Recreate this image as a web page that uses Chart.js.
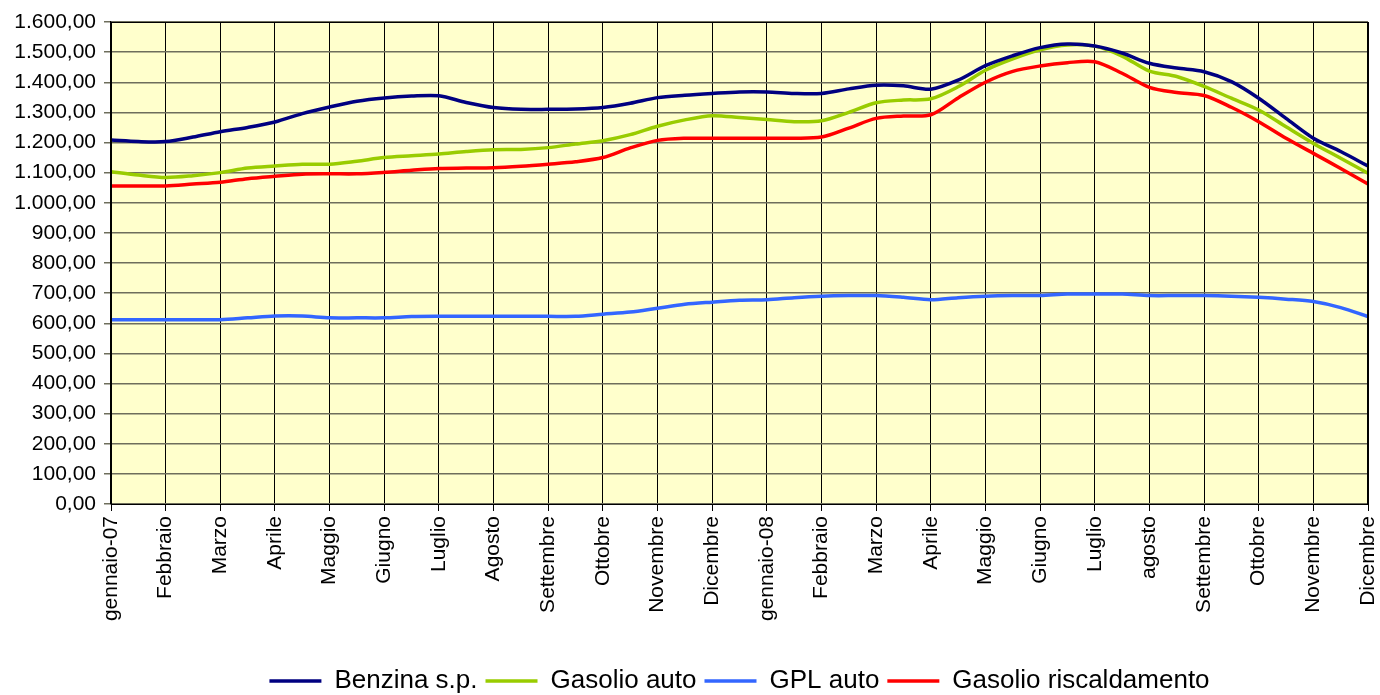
<!DOCTYPE html>
<html>
<head>
<meta charset="utf-8">
<script src="https://cdn.jsdelivr.net/npm/chart.js@4/dist/chart.umd.min.js"></script>
<style>
  html, body { margin: 0; padding: 0; background: #fff; }
  #wrap { width: 1380px; height: 695px; }
</style>
</head>
<body>
<div id="wrap"><canvas id="prezzi"></canvas></div>
<script>
// ── Data (half-month points, gen 2007 – dic 2008) ────────────────
const months = ['gennaio-07', 'Febbraio', 'Marzo', 'Aprile', 'Maggio', 'Giugno', 'Luglio', 'Agosto',
  'Settembre', 'Ottobre', 'Novembre', 'Dicembre', 'gennaio-08', 'Febbraio', 'Marzo', 'Aprile',
  'Maggio', 'Giugno', 'Luglio', 'agosto', 'Settembre', 'Ottobre', 'Novembre', 'Dicembre'];

const benzina = [1208, 1203, 1203, 1218, 1236, 1250, 1268, 1296, 1318, 1337, 1348, 1354, 1355, 1333,
  1316, 1310, 1310, 1311, 1316, 1330, 1349, 1357, 1363, 1368, 1368, 1363, 1363, 1378, 1390, 1388,
  1377, 1407, 1455, 1488, 1515, 1527, 1520, 1497, 1463, 1447, 1435, 1402, 1347, 1280, 1214, 1170, 1122];

const gasolioAuto = [1103, 1092, 1084, 1090, 1100, 1115, 1122, 1128, 1128, 1138, 1150, 1156, 1162, 1170,
  1176, 1177, 1183, 1195, 1206, 1226, 1254, 1275, 1289, 1283, 1276, 1269, 1272, 1300, 1332, 1341,
  1345, 1385, 1440, 1478, 1508, 1524, 1520, 1487, 1437, 1419, 1386, 1347, 1308, 1252, 1197, 1148, 1098];

const gplAuto = [612, 612, 612, 612, 612, 618, 624, 624, 618, 618, 618, 622, 623, 623, 623, 623, 623,
  623, 630, 637, 650, 663, 670, 676, 678, 685, 690, 692, 692, 686, 678, 685, 690, 692, 692, 697, 697,
  697, 692, 692, 692, 690, 686, 680, 672, 652, 622];

const gasolioRisc = [1056, 1056, 1056, 1062, 1068, 1080, 1088, 1095, 1096, 1096, 1101, 1108, 1114, 1115,
  1116, 1121, 1128, 1136, 1150, 1182, 1207, 1214, 1214, 1214, 1214, 1214, 1218, 1248, 1280, 1288,
  1292, 1348, 1400, 1436, 1454, 1465, 1468, 1430, 1383, 1366, 1356, 1317, 1269, 1214, 1164, 1114, 1062];

const positions = benzina.map((_, i) => i);

// ── Helpers ──────────────────────────────────────────────────────
function fmtIt(v) {
  const int = Math.round(v).toString().replace(/\B(?=(\d{3})+(?!\d))/g, '.');
  return int + ',00';
}

function line(label, data, color) {
  return {
    label, data,
    borderColor: color, backgroundColor: color,
    borderWidth: 3.5, pointRadius: 0, tension: 0.3,
    pointStyle: 'line'
  };
}

// plot area fill + frame
const plotBg = {
  id: 'plotBg',
  beforeDraw(chart) {
    const { ctx, chartArea: a } = chart;
    ctx.save();
    ctx.fillStyle = '#FFFFCC';
    ctx.fillRect(a.left, a.top, a.right - a.left, a.bottom - a.top);
    ctx.restore();
  },
  afterDatasetsDraw(chart) {
    const { ctx, chartArea: a } = chart;
    ctx.save();
    ctx.strokeStyle = '#000';
    ctx.lineWidth = 1;
    ctx.strokeRect(Math.round(a.left) + 0.5, Math.round(a.top) + 0.5,
      Math.round(a.right - a.left) - 1, Math.round(a.bottom - a.top));
    ctx.restore();
  }
};

Chart.defaults.font.family = '"Liberation Sans", Arial, sans-serif';
Chart.defaults.color = '#000';

new Chart(document.getElementById('prezzi'), {
  type: 'line',
  data: {
    labels: positions,
    datasets: [
      line('Benzina s.p.', benzina, '#000080'),
      line('Gasolio auto', gasolioAuto, '#99CC00'),
      line('GPL auto', gplAuto, '#3366FF'),
      line('Gasolio riscaldamento', gasolioRisc, '#FF0000')
    ]
  },
  options: {
    responsive: true,
    maintainAspectRatio: false,
    animation: false,
    layout: { padding: { top: 22, right: 12, left: 0, bottom: -9 } },
    plugins: {
      legend: {
        position: 'bottom',
        fullSize: false,   // centre under the plot area, not the canvas
        labels: {
          usePointStyle: true,
          pointStyleWidth: 52,
          padding: 8,
          font: { size: 26 },
          color: '#000'
        }
      },
      tooltip: { enabled: false }
    },
    scales: {
      x: {
        type: 'linear',
        min: 0, max: 46,
        afterFit(s) { s.height = 156; s.paddingRight = 0; s.paddingLeft = 0; },
        ticks: {
          stepSize: 2, autoSkip: false,
          minRotation: 90, maxRotation: 90,
          padding: 5,
          font: { size: 21 },
          callback: v => months[v / 2]
        },
        grid: { color: '#000', lineWidth: 1, tickLength: 7 },
        border: { color: '#000', width: 1 }
      },
      y: {
        min: 0, max: 1600,
        afterFit(s) { s.width = 111; },
        ticks: {
          stepSize: 100,
          padding: 8,
          font: { size: 21 },
          callback: v => fmtIt(v)
        },
        grid: { color: '#6e6e5c', lineWidth: 1.5, tickLength: 7 },
        border: { color: '#000', width: 1.5 }
      }
    }
  },
  plugins: [plotBg]
});
</script>
</body>
</html>
